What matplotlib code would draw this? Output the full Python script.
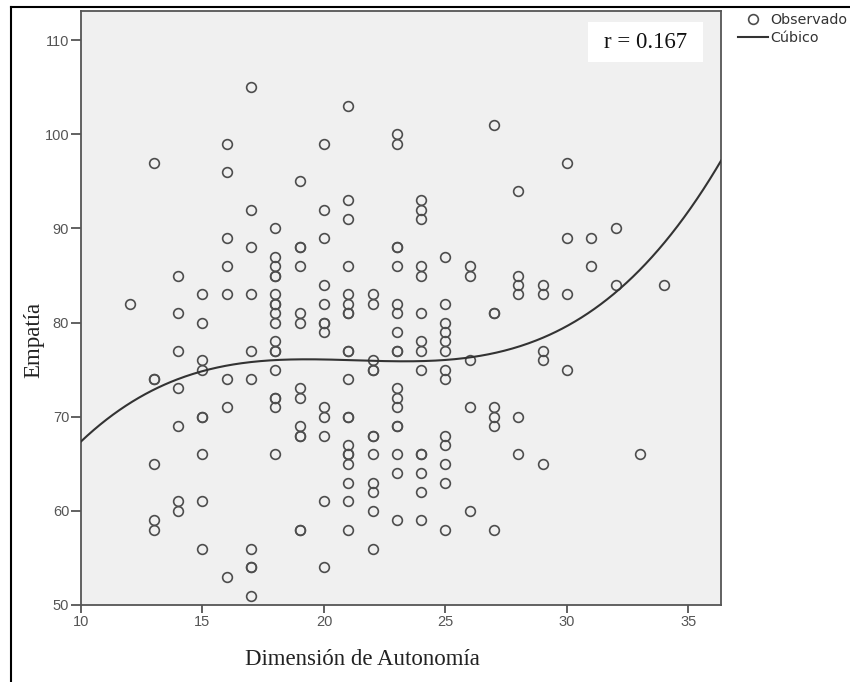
import numpy as np
import matplotlib
matplotlib.use('Agg')
import matplotlib.pyplot as plt
from matplotlib.lines import Line2D
from matplotlib.patches import Rectangle

# datos (una línea por valor de autonomía)
autonomia = (
    [12] * 1 + [13] * 6 + [14] * 7 + [15] * 9 + [16] * 8 + [17] * 10 +
    [18] * 18 + [19] * 13 + [20] * 13 + [21] * 20 + [22] * 12 + [23] * 18 +
    [24] * 14 + [25] * 13 + [26] * 5 + [27] * 7 + [28] * 6 + [29] * 5 +
    [30] * 4 + [31] * 2 + [32] * 2 + [33] * 1 + [34] * 1
)
empatia = [
    82,
    97, 74, 74, 65, 59, 58,
    85, 81, 77, 73, 69, 61, 60,
    83, 80, 76, 75, 70, 70, 66, 61, 56,
    99, 96, 89, 86, 83, 74, 71, 53,
    105, 92, 88, 83, 77, 74, 56, 54, 54, 51,
    90, 87, 86, 85, 85, 83, 82, 82, 81, 80, 78, 77, 77, 75, 72, 72, 71, 66,
    95, 88, 88, 86, 81, 80, 73, 72, 69, 68, 68, 58, 58,
    99, 92, 89, 84, 82, 80, 80, 79, 71, 70, 68, 61, 54,
    103, 93, 91, 86, 83, 82, 81, 81, 77, 77, 74, 70, 70, 67, 66, 66, 65, 63, 61, 58,
    83, 82, 76, 75, 75, 68, 68, 66, 63, 62, 60, 56,
    100, 99, 88, 88, 86, 82, 81, 79, 77, 77, 73, 72, 71, 69, 69, 66, 64, 59,
    93, 92, 91, 86, 85, 81, 78, 77, 75, 66, 66, 64, 62, 59,
    87, 82, 80, 79, 78, 77, 75, 74, 68, 67, 65, 63, 58,
    86, 85, 76, 71, 60,
    101, 81, 81, 71, 70, 69, 58,
    94, 85, 84, 83, 70, 66,
    84, 83, 77, 76, 65,
    97, 89, 83, 75,
    89, 86,
    90, 84,
    66,
    84,
]
r_valor = 0.167
x_ticks = [10, 15, 20, 25, 30, 35]
y_ticks = [50, 60, 70, 80, 90, 100, 110]

W, H = 850, 682
fig = plt.figure(figsize=(W / 100, H / 100), dpi=100)
ax = fig.add_axes([81 / W, 1 - 605 / H, (721 - 81) / W, (605 - 11) / H])
ax.set_facecolor('#f0f0f0')

gris = '#555555'
ax.plot(autonomia, empatia, 'o', mfc='none', mec='#4d4d4d', ms=7, mew=1.2,
        label='Observado', zorder=3)

# ajuste cúbico
coef = np.polyfit(autonomia, empatia, 3)
xs = np.linspace(10, 36.34, 400)
ax.plot(xs, np.polyval(coef, xs), color='#333333', lw=1.5, label='Cúbico', zorder=4)

ax.set_xlim(10, 36.34)
ax.set_ylim(50, 113.1)
ax.set_xticks(x_ticks)
ax.set_yticks(y_ticks)
for s in ax.spines.values():
    s.set_color(gris)
    s.set_linewidth(1.3)
ax.tick_params(axis='both', direction='out', color=gris, width=1.3,
               labelcolor=gris, labelsize=10.5, pad=1.5)
ax.tick_params(axis='x', length=5.5)
ax.tick_params(axis='y', length=7)
for lab in ax.get_xticklabels() + ax.get_yticklabels():
    lab.set_family('Liberation Sans')

# cuadro con el coeficiente r
ax.add_patch(Rectangle(((588 - 81) / 640, (605 - 62) / 594), 115 / 640, 40 / 594,
                       transform=ax.transAxes, fc='white', ec='none', zorder=5))
ax.text((645.5 - 81) / 640, (605 - 42) / 594, 'r = %.3f' % r_valor,
        transform=ax.transAxes, ha='center', va='center',
        family='Liberation Serif', size=16.5, color='#111111', zorder=6)

fig.text(362 / W, 1 - 665 / H, 'Dimensión de Autonomía', ha='center', va='baseline',
         family='Liberation Serif', size=16.5, color='#222222')
fig.text(34 / W, 1 - 340 / H, 'Empatía', ha='center', va='center', rotation=90,
         family='Liberation Serif', size=16.5, color='#222222')

# leyenda fuera del gráfico
h, l = ax.get_legend_handles_labels()
fig.legend(h, l, loc='upper left', bbox_to_anchor=(738 / W, 1 - 13 / H),
           bbox_transform=fig.transFigure, frameon=False, borderpad=0,
           borderaxespad=0, handlelength=2.1, handletextpad=0.15,
           labelspacing=0.25, prop={'family': 'DejaVu Sans', 'size': 10.3},
           labelcolor='#333333')

# marco exterior
fig.add_artist(Line2D([11 / W, 11 / W], [0, 1 - 7 / H], color='black', lw=1.5))
fig.add_artist(Line2D([11 / W, 1], [1 - 7 / H, 1 - 7 / H], color='black', lw=1.5))

fig.savefig('out.png', dpi=100)
